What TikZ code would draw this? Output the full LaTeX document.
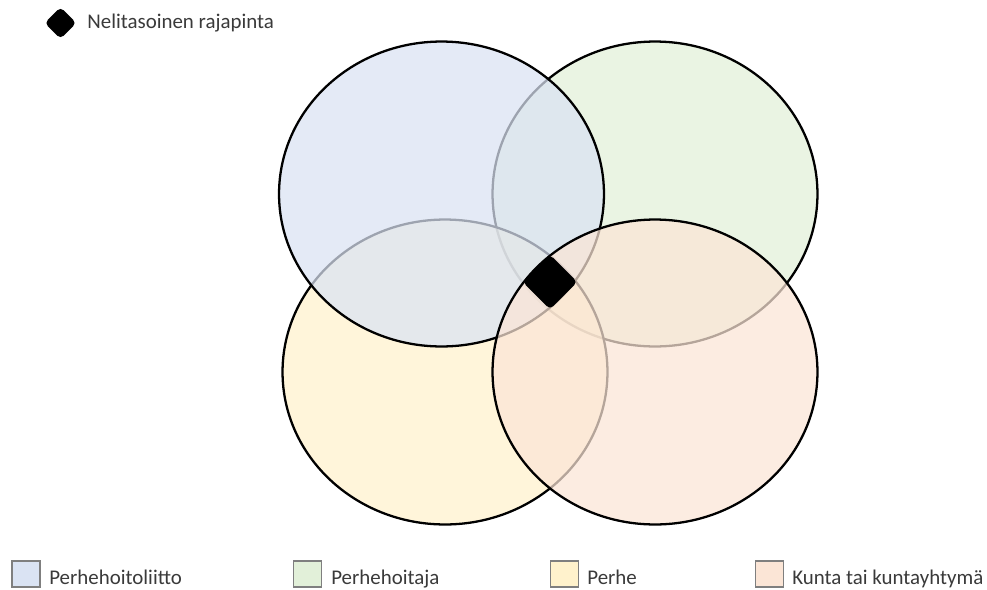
\documentclass[tikz,border=0pt]{standalone}
\usepackage{fontspec}
\setmainfont{Carlito}
\usetikzlibrary{shapes.geometric}
\definecolor{cblue}{HTML}{DAE3F3}
\definecolor{cgreen}{HTML}{E2F0D9}
\definecolor{cyellow}{HTML}{FFF2CC}
\definecolor{cpeach}{HTML}{FBE5D6}
\definecolor{txt}{HTML}{3A3A3A}
\definecolor{boxline}{HTML}{7F7F7F}
\begin{document}
\begin{tikzpicture}[x=0.02cm,y=-0.02cm,
  setcircle/.style={ellipse, draw=black, line width=1.3pt, fill opacity=0.72,
    minimum width=6.5cm, minimum height=6.1cm, inner sep=0pt, outer sep=0pt},
  jewel/.style={diamond, fill=black, rounded corners=2.5pt, inner sep=0pt, aspect=1},
  legbox/.style={draw=boxline, line width=0.6pt, minimum width=0.56cm, minimum height=0.52cm, inner sep=0pt},
  legtext/.style={anchor=base west, text=txt, font=\fontsize{11.9}{14}\selectfont, inner sep=0pt}]
\useasboundingbox (0,0) rectangle (987,589);
\fill[white] (0,0) rectangle (987,589);
% circles (draw order: green, yellow, blue, peach)
\node[setcircle, fill=cgreen]  (green)  at (655,194) {};
\node[setcircle, fill=cyellow] (yellow) at (445,372) {};
\node[setcircle, fill=cblue]   (blue)   at (441.5,194) {};
\node[setcircle, fill=cpeach]  (peach)  at (655,372) {};
% four-level interface marker
\node[jewel, minimum width=1.1cm, minimum height=1.1cm] (center) at (550,282) {};
% top legend
\node[jewel, minimum width=0.64cm, minimum height=0.64cm] (topmark) at (60.5,23) {};
\node[legtext] (toptext) at (87,28) {Nelitasoinen rajapinta};
% bottom legend
\node[legbox, fill=cblue]   (b1) at (26,574) {};
\node[legtext] (t1) at (49,584) {Perhehoitoliitto};
\node[legbox, fill=cgreen]  (b2) at (307.5,574) {};
\node[legtext] (t2) at (331,584) {Perhehoitaja};
\node[legbox, fill=cyellow] (b3) at (564.5,574) {};
\node[legtext] (t3) at (587,584) {Perhe};
\node[legbox, fill=cpeach]  (b4) at (769.5,574) {};
\node[legtext] (t4) at (792,584) {Kunta tai kuntayhtymä};
\end{tikzpicture}
\end{document}
